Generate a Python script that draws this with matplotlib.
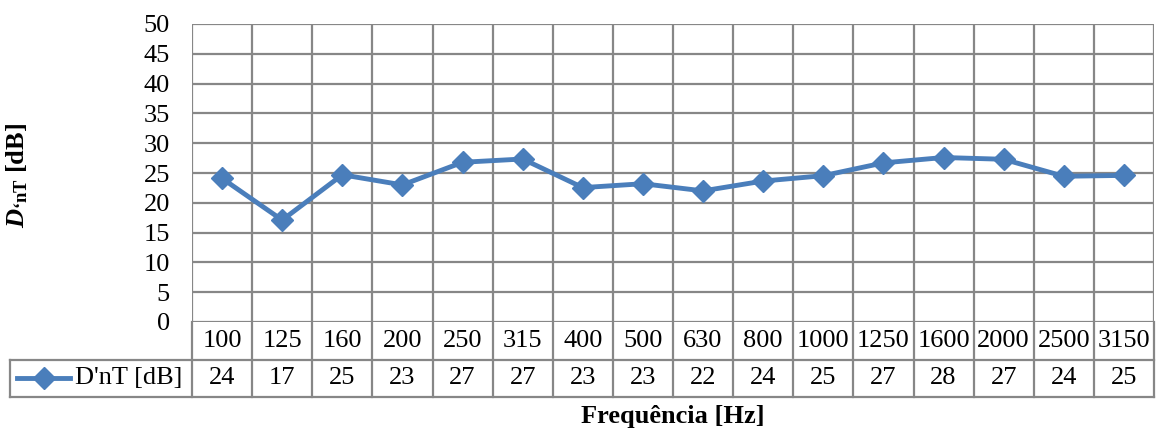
import math
import matplotlib
matplotlib.use("Agg")
import matplotlib.pyplot as plt
from matplotlib.transforms import blended_transform_factory
from matplotlib.lines import Line2D

# ---- data ----
frequencies = ["100", "125", "160", "200", "250", "315", "400", "500", "630",
               "800", "1000", "1250", "1600", "2000", "2500", "3150"]
dnt_values = [24.1, 17.1, 24.7, 23.0, 26.8, 27.35, 22.55, 23.2, 22.0,
              23.65, 24.55, 26.7, 27.6, 27.3, 24.45, 24.6]
series_name = "D'nT [dB]"
y_ticks = [0, 5, 10, 15, 20, 25, 30, 35, 40, 45, 50]
x_title = "Frequência [Hz]"

plt.rcParams['font.family'] = ['Liberation Serif', 'DejaVu Serif']
plt.rcParams['mathtext.fontset'] = 'custom'
plt.rcParams['mathtext.rm'] = 'Liberation Serif:bold'
plt.rcParams['mathtext.bf'] = 'Liberation Serif:bold'
plt.rcParams['mathtext.it'] = 'Liberation Serif:italic:bold'

W, H = 1156, 432
fig = plt.figure(figsize=(W / 100, H / 100), dpi=100)

def fx(px):
    return px / W

def fy(py):
    return 1 - py / H

left_px, right_px, top_px, bottom_px = 192, 1154, 24, 322
ax = fig.add_axes([fx(left_px), fy(bottom_px), fx(right_px) - fx(left_px),
                   fy(top_px) - fy(bottom_px)])

grid_color = '#878787'
line_color = '#4A7EBB'
fs = 19
glw = 1.6
llw = 3.5
ms = 11.5

n = len(frequencies)
xs = list(range(n))
ax.plot(xs, dnt_values, color=line_color, lw=llw, marker='D', ms=ms,
        markeredgecolor=line_color, markerfacecolor=line_color, zorder=5,
        clip_on=False)

ax.set_xlim(-0.5, n - 0.5)
ax.set_ylim(0, 50)
ax.set_yticks(y_ticks)
ax.set_yticklabels([str(t) for t in y_ticks], fontsize=fs)
ax.tick_params(axis='y', length=0, pad=16)
ax.set_xticks([])
for t in y_ticks:
    ax.axhline(t, color=grid_color, lw=glw, zorder=1)
for i in range(n + 1):
    ax.axvline(i - 0.5, color=grid_color, lw=glw, zorder=1)
for s in ax.spines.values():
    s.set_visible(False)

# ---- data table ----
tr = blended_transform_factory(ax.transData, fig.transFigure)
y_top = fy(bottom_px)
y_mid = fy(360)
y_bot = fy(397)
for i in range(n + 1):
    fig.add_artist(Line2D([i - 0.5, i - 0.5], [y_top, y_bot], transform=tr,
                          color=grid_color, lw=glw))
x_leg_left = fx(10)
x_right = fx(right_px)
for yy in (y_mid, y_bot):
    fig.add_artist(Line2D([x_leg_left, x_right], [yy, yy],
                          transform=fig.transFigure, color=grid_color, lw=glw))
fig.add_artist(Line2D([x_leg_left, x_leg_left], [y_mid, y_bot],
                      transform=fig.transFigure, color=grid_color, lw=glw))

y_lab = fy(341)
y_val = fy(378)
for i, (f, v) in enumerate(zip(frequencies, dnt_values)):
    fig.text(i, y_lab, f, transform=tr, ha='center', va='center', fontsize=fs)
    fig.text(i, y_val, str(int(math.floor(v + 0.5))), transform=tr,
             ha='center', va='center', fontsize=fs)

# legend key inside the table
fig.add_artist(Line2D([fx(17), fx(70)], [y_val, y_val], transform=fig.transFigure,
                      color=line_color, lw=llw))
fig.add_artist(Line2D([fx(43.5)], [y_val], transform=fig.transFigure,
                      color=line_color, marker='D', ms=ms, lw=0))
fig.text(fx(75), y_val, series_name, ha='left', va='center', fontsize=fs)

# ---- titles ----
fig.text(fx((left_px + right_px) / 2), fy(417), x_title, ha='center',
         va='center', fontsize=fs, fontweight='bold')
fig.text(fx(17), fy(175), "$D_{\\mathbf{\u2018nT}}$ [dB]", rotation=90,
         ha='center', va='center', fontsize=fs, fontweight='bold')

fig.savefig("out.png", dpi=100)
